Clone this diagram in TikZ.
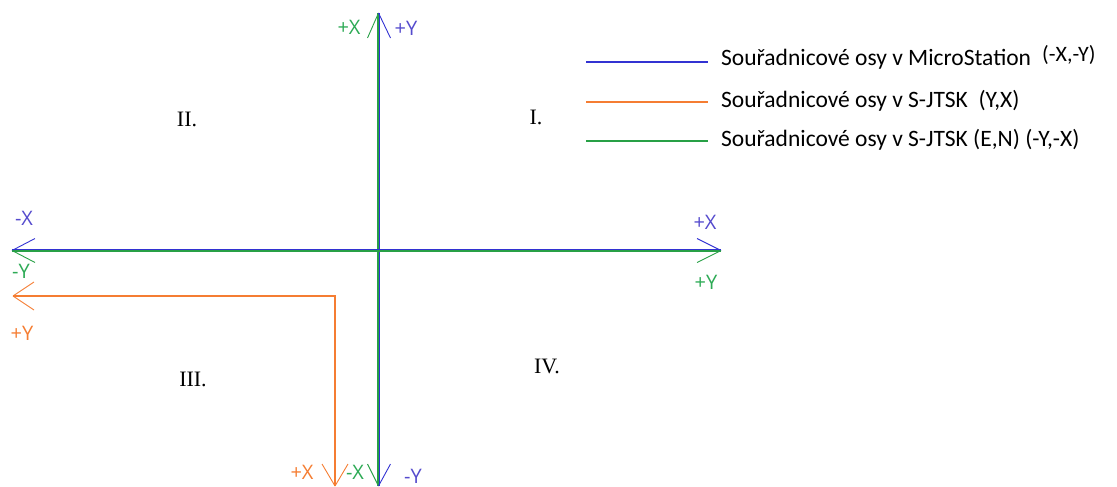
\documentclass[tikz,border=0pt]{standalone}
\usepackage{fontspec}
\setmainfont{Liberation Serif}
\newfontfamily\legfont{Carlito}
\newfontfamily\axfont{Open Sans}
\definecolor{cblue}{RGB}{50,50,210}
\definecolor{cgreen}{RGB}{40,160,70}
\definecolor{corange}{RGB}{245,125,50}
\definecolor{lblue}{RGB}{85,75,205}
\definecolor{lgreen}{RGB}{45,170,85}
\begin{document}
\begin{tikzpicture}[x=1pt,y=-1pt,
  ax/.style={line width=1.5pt},
  hd/.style={line width=0.9pt},
  lab/.style={font=\axfont\fontsize{20}{20}\selectfont, inner sep=0pt},
  quad/.style={font=\fontsize{22}{22}\selectfont, inner sep=0pt},
  leg/.style={font=\legfont\fontsize{23.5}{23.5}\selectfont, inner sep=0pt, anchor=west}]
\useasboundingbox (0,0) rectangle (1117,487);
% axis end points
\coordinate (vt) at (378.5,13);
\coordinate (vb) at (378.5,486);
\coordinate (hl) at (12,250.5);
\coordinate (hr) at (721,250.5);
\coordinate (ob) at (335,486);
\coordinate (oc) at (335,296);
\coordinate (ol) at (13,296);
% main axes (blue and green overlapping)
\draw[ax,cblue] ([xshift=0.8pt]vt) -- ([xshift=0.8pt]vb);
\draw[ax,cgreen] ([xshift=-0.7pt]vt) -- ([xshift=-0.7pt]vb);
\draw[ax,cblue] ([yshift=0.7pt]hl) -- ([yshift=0.7pt]hr);
\draw[ax,cgreen] ([yshift=-0.7pt]hl) -- ([yshift=-0.7pt]hr);
% orange axes
\draw[corange,line width=1.3pt] (ob) -- (oc) -- (ol);
% arrowheads
\draw[hd,cgreen] (vt) -- ++(-11,25);
\draw[hd,cblue] (vt) -- ++(12,25);
\draw[hd,cgreen] (vb) -- ++(-11,-22);
\draw[hd,cblue] (vb) -- ++(12,-22);
\draw[hd,cblue] (hl) -- ++(23,-12);
\draw[hd,cgreen] (hl) -- ++(23,12);
\draw[hd,cblue] (hr) -- ++(-24,-12);
\draw[hd,cgreen] (hr) -- ++(-24,12);
\draw[hd,corange] (ol) -- ++(21,-14);
\draw[hd,corange] (ol) -- ++(21,14);
\draw[hd,corange] (ob) -- ++(-13,-22);
\draw[hd,corange] (ob) -- ++(13,-22);
% axis labels
\node[lab,lgreen] (tX) at (349,27) {+X};
\node[lab,lblue] (tY) at (406,28) {+Y};
\node[lab,lblue] (lX) at (24,218) {-X};
\node[lab,lgreen] (lY) at (21,271) {-Y};
\node[lab,corange] (lOY) at (22,333) {+Y};
\node[lab,lblue] (rX) at (705,222) {+X};
\node[lab,lgreen] (rY) at (706,282) {+Y};
\node[lab,corange] (bOX) at (302,472) {+X};
\node[lab,lgreen] (bX) at (355,472) {-X};
\node[lab,lblue,anchor=north] (bY) at (413,469) {-Y};
% quadrants
\node[quad] (q1) at (536,117) {I.};
\node[quad] (q2) at (187,119) {II.};
\node[quad] (q3) at (193,379) {III.};
\node[quad] (q4) at (547,366) {IV.};
% legend
\coordinate (la1) at (586,62); \coordinate (lb1) at (708,62);
\coordinate (la2) at (586,102); \coordinate (lb2) at (708,102);
\coordinate (la3) at (586,141); \coordinate (lb3) at (708,141);
\draw[cblue,line width=1.1pt] (la1) -- (lb1);
\draw[corange,line width=1.1pt] (la2) -- (lb2);
\draw[cgreen,line width=1.1pt] (la3) -- (lb3);
\node[leg] (t1) at (721,59) {Souřadnicové osy v MicroStation};
\node[leg,font=\legfont\fontsize{22}{22}\selectfont] (t1b) at (1042,55) {(-X,-Y)};
\node[leg] (t2) at (721,101) {Souřadnicové osy v S-JTSK\ \ (Y,X)};
\node[leg] (t3) at (721,140) {Souřadnicové osy v S-JTSK (E,N) (-Y,-X)};
\end{tikzpicture}
\end{document}
